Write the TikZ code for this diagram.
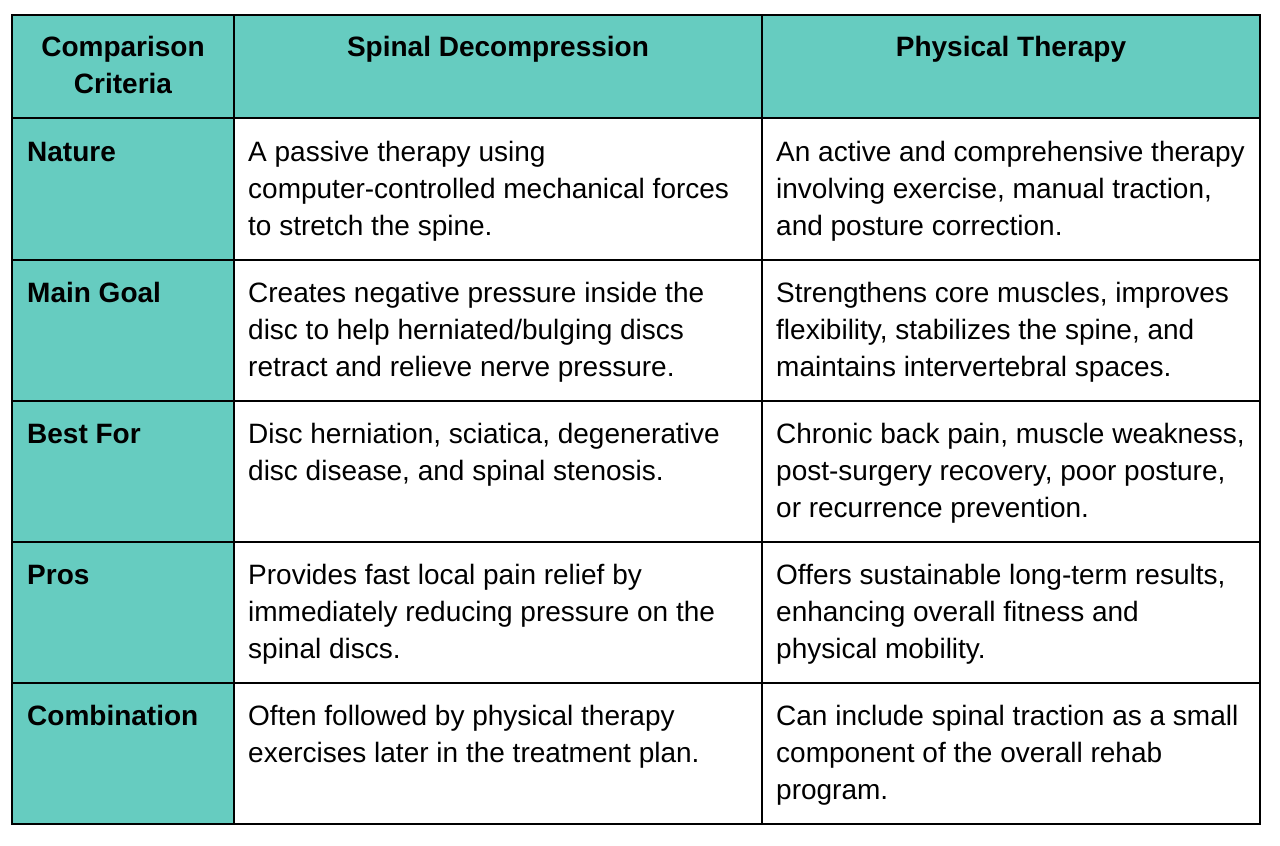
\documentclass[tikz,border=0pt]{standalone}
\usepackage{fontspec}
\setmainfont{Liberation Sans}
\definecolor{teal1}{HTML}{66CCC0}
\begin{document}
\begin{tikzpicture}[x=1pt,y=1pt,
 cell/.style={anchor=base west,inner sep=0pt,align=left,font=\fontsize{28}{37}\selectfont},
 hcell/.style={anchor=base,inner sep=0pt,align=center,font=\fontsize{28}{37}\selectfont\bfseries},
 lcell/.style={cell,font=\fontsize{28}{37}\selectfont\bfseries}]
\useasboundingbox (0,0) rectangle (1280,-846);
\fill[teal1] (12,-15) rectangle (1260,-118);
\fill[teal1] (12,-118) rectangle (234,-824);
\draw[line width=1.3pt] (12,-15) rectangle (1260,-824);
\foreach \y in {118,260,401,542,683} \draw[line width=1.3pt] (12,-\y) -- (1260,-\y);
\foreach \x in {234,762} \draw[line width=1.3pt] (\x,-15) -- (\x,-824);
\node[hcell] (h1) at (123,-93) {Comparison\\Criteria};
\node[hcell] (h2) at (498,-56) {Spinal Decompression};
\node[hcell] (h3) at (1011,-56) {Physical Therapy};
% rows
\node[lcell] (l1) at (27,-161) {Nature};
\node[cell] (a1) at (248,-235) {A passive therapy using\\computer-controlled mechanical forces\\to stretch the spine.};
\node[cell] (b1) at (776,-235) {An active and comprehensive therapy\\involving exercise, manual traction,\\and posture correction.};
\node[lcell] (l2) at (27,-302) {Main Goal};
\node[cell] (a2) at (248,-376) {Creates negative pressure inside the\\disc to help herniated/bulging discs\\retract and relieve nerve pressure.};
\node[cell] (b2) at (776,-376) {Strengthens core muscles, improves\\flexibility, stabilizes the spine, and\\maintains intervertebral spaces.};
\node[lcell] (l3) at (27,-443) {Best For};
\node[cell] (a3) at (248,-480) {Disc herniation, sciatica, degenerative\\disc disease, and spinal stenosis.};
\node[cell] (b3) at (776,-517) {Chronic back pain, muscle weakness,\\post-surgery recovery, poor posture,\\or recurrence prevention.};
\node[lcell] (l4) at (27,-584) {Pros};
\node[cell] (a4) at (248,-658) {Provides fast local pain relief by\\immediately reducing pressure on the\\spinal discs.};
\node[cell] (b4) at (776,-658) {Offers sustainable long-term results,\\enhancing overall fitness and\\physical mobility.};
\node[lcell] (l5) at (27,-725) {Combination};
\node[cell] (a5) at (248,-762) {Often followed by physical therapy\\exercises later in the treatment plan.};
\node[cell] (b5) at (776,-799) {Can include spinal traction as a small\\component of the overall rehab\\program.};
\end{tikzpicture}
\end{document}
